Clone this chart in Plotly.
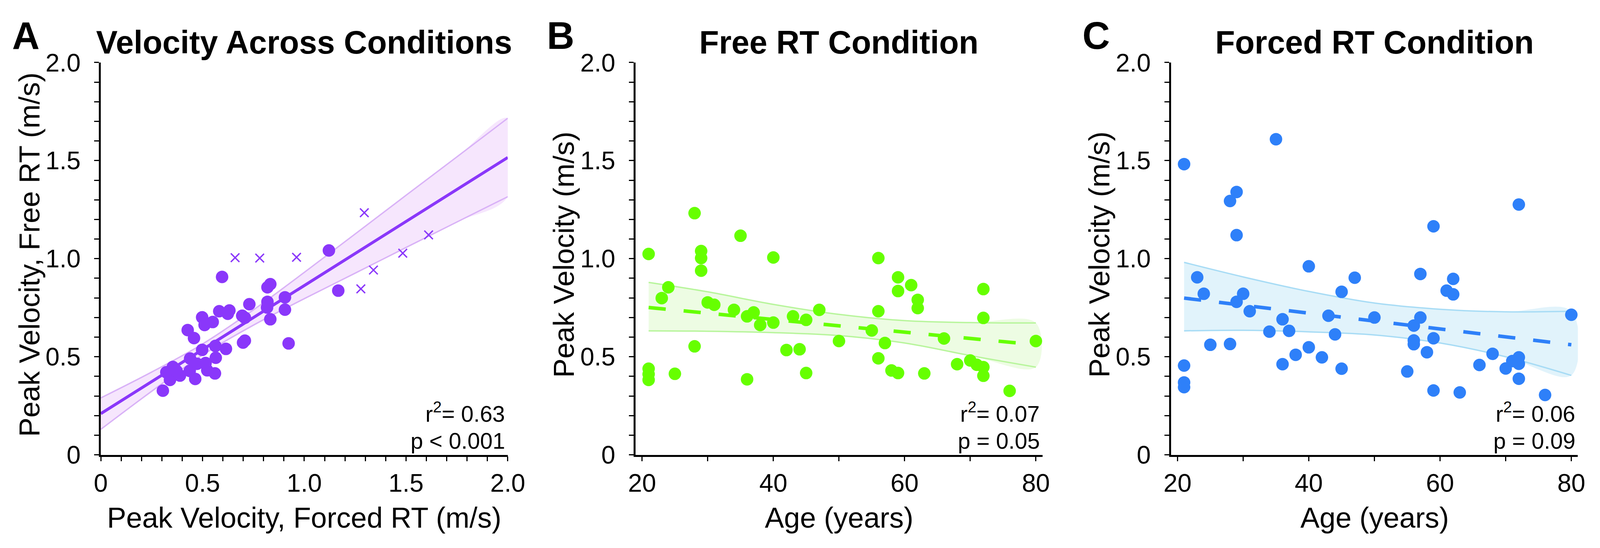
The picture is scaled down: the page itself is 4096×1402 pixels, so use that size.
import plotly.graph_objects as go

# ---------------- data ----------------
# Panel A: peak velocity, Forced RT (x) vs Free RT (y), m/s
a_forced = [0.305, 0.340, 0.322, 0.354, 0.389, 0.372, 0.439, 0.437, 0.464, 0.473,
            0.515, 0.523, 0.561, 0.565, 0.498, 0.563, 0.615, 0.427, 0.458, 0.498,
            0.510, 0.550, 0.582, 0.632, 0.624, 0.695, 0.708, 0.730, 0.708, 0.699,
            0.817, 0.819, 0.833, 0.905, 0.905, 0.819, 0.833, 0.923, 0.596, 1.121,
            1.167]
a_free = [0.327, 0.382, 0.421, 0.448, 0.404, 0.428, 0.491, 0.428, 0.387, 0.464,
          0.468, 0.431, 0.415, 0.495, 0.535, 0.555, 0.540, 0.636, 0.595, 0.701,
          0.662, 0.677, 0.732, 0.736, 0.719, 0.709, 0.699, 0.768, 0.582, 0.572,
          0.751, 0.780, 0.691, 0.803, 0.740, 0.854, 0.870, 0.568, 0.907, 1.042,
          0.837]
a_excl_forced = [0.660, 0.781, 0.962, 1.295, 1.278, 1.340, 1.484, 1.611]
a_excl_free = [1.005, 1.003, 1.007, 1.234, 0.846, 0.942, 1.028, 1.121]
a_fit_x = [0.0, 2.0]
a_fit_y = [0.210, 1.516]
a_ci_x = [0.0, 0.25, 0.5, 0.75, 1.0, 1.25, 1.5, 1.75, 2.0]
a_ci_hi = [0.290, 0.422, 0.565, 0.739, 0.930, 1.126, 1.323, 1.519, 1.716]
a_ci_lo = [0.130, 0.324, 0.509, 0.661, 0.796, 0.926, 1.057, 1.187, 1.316]

# Panel B: Free RT condition, age vs peak velocity
b_age = [21, 21, 21, 21, 23, 24, 25, 28, 28, 29, 29, 29, 30, 31, 34, 35, 36, 36,
         37, 38, 40, 40, 42, 43, 44, 45, 45, 47, 50, 55, 56, 56, 56, 57, 58, 59,
         59, 59, 61, 62, 62, 63, 66, 68, 70, 71, 72, 72, 72, 72, 76, 80]
b_vel = [1.024, 0.439, 0.411, 0.382, 0.799, 0.854, 0.413, 1.232, 0.553, 1.039,
         1.003, 0.939, 0.777, 0.765, 0.739, 1.117, 0.706, 0.385, 0.726, 0.662,
         1.006, 0.674, 0.534, 0.706, 0.538, 0.688, 0.417, 0.739, 0.580, 0.634,
         1.003, 0.732, 0.492, 0.570, 0.430, 0.905, 0.835, 0.417, 0.865, 0.790,
         0.748, 0.415, 0.593, 0.462, 0.481, 0.459, 0.845, 0.698, 0.447, 0.403,
         0.326, 0.580]
b_fit_x = [21, 80]
b_fit_y = [0.751, 0.561]
b_ci_x = [21, 30, 40, 50, 60, 70, 80]
b_ci_hi = [0.879, 0.831, 0.767, 0.716, 0.684, 0.674, 0.672]
b_ci_lo = [0.632, 0.630, 0.623, 0.608, 0.570, 0.506, 0.447]

# Panel C: Forced RT condition, age vs peak velocity
c_age = [21, 21, 21, 21, 23, 24, 25, 28, 28, 29, 29, 29, 30, 31, 34, 35, 36, 36,
         37, 38, 40, 40, 42, 43, 44, 45, 45, 47, 50, 55, 56, 56, 56, 57, 57, 58,
         59, 59, 59, 61, 62, 62, 63, 66, 68, 70, 71, 72, 72, 72, 72, 76, 80]
c_vel = [1.482, 0.455, 0.369, 0.345, 0.905, 0.821, 0.561, 1.294, 0.565, 1.340,
         1.120, 0.780, 0.821, 0.732, 0.628, 1.609, 0.691, 0.462, 0.632, 0.510,
         0.961, 0.548, 0.497, 0.709, 0.614, 0.831, 0.439, 0.903, 0.700, 0.425,
         0.659, 0.583, 0.564, 0.922, 0.700, 0.523, 1.165, 0.594, 0.328, 0.837,
         0.897, 0.818, 0.318, 0.458, 0.515, 0.440, 0.478, 1.276, 0.497, 0.464,
         0.388, 0.305, 0.714]
c_fit_x = [21, 80]
c_fit_y = [0.799, 0.561]
c_ci_x = [21, 30, 40, 50, 60, 70, 80]
c_ci_hi = [0.981, 0.907, 0.833, 0.774, 0.742, 0.729, 0.732]
c_ci_lo = [0.632, 0.635, 0.627, 0.611, 0.570, 0.500, 0.405]

# ticks
vel_major_vals = [0, 0.5, 1.0, 1.5, 2.0]
vel_major_text = ["0", "0.5", "1.0", "1.5", "2.0"]
vel_minor_vals = [i / 10 for i in range(21)]
age_major_vals = [20, 40, 60, 80]
age_major_text = ["20", "40", "60", "80"]
age_minor_vals = [20, 30, 40, 50, 60, 70, 80]

titles = ["Velocity Across Conditions", "Free RT Condition", "Forced RT Condition"]
letters = ["A", "B", "C"]
x_titles = ["Peak Velocity, Forced RT (m/s)", "Age (years)", "Age (years)"]
y_titles = ["Peak Velocity, Free RT (m/s)", "Peak Velocity (m/s)", "Peak Velocity (m/s)"]
r2_text = ["0.63", "0.07", "0.06"]
p_text = ["p < 0.001", "p = 0.05", "p = 0.09"]

# ---------------- geometry (reference pixels -> paper) ----------------
W, H = 4096, 1402
SX, SY = W / 4118, H / 1410
S = 0.994


def px(x):
    return x * SX / W


def py(y):
    return 1 - y * SY / H


panel_left = [236, 1634, 3034]
panel_right = [1300, 2698, 4098]
y_bottom, y_top = 1188, 124

purple, purple_fill, purple_ci = "#8A37FA", "#F6E6FD", "#D9B2F7"
green, green_fill, green_ci = "#66FF00", "#EDFCE3", "#B8F59C"
blue, blue_fill, blue_ci = "#2E80F9", "#E1F3FB", "#A8DCF5"

fig = go.Figure()


def band(x, hi, lo, fill, edge, xa, ya):
    fig.add_trace(go.Scatter(x=list(x) + list(x)[::-1], y=list(hi) + list(lo)[::-1],
                             fill="toself", fillcolor=fill, line=dict(width=0),
                             mode="lines", line_shape="spline", hoverinfo="skip",
                             xaxis=xa, yaxis=ya, showlegend=False))
    for yy in (hi, lo):
        fig.add_trace(go.Scatter(x=x, y=yy, mode="lines", line=dict(color=edge, width=3.5),
                                 line_shape="spline", xaxis=xa, yaxis=ya, showlegend=False))


# Panel A
band(a_ci_x, a_ci_hi, a_ci_lo, purple_fill, purple_ci, "x", "y")
fig.add_trace(go.Scatter(x=a_fit_x, y=a_fit_y, mode="lines", line=dict(color=purple, width=7.5),
                         xaxis="x", yaxis="y", showlegend=False))
fig.add_trace(go.Scatter(x=a_forced, y=a_free, mode="markers",
                         marker=dict(color=purple, size=32, line=dict(width=0)),
                         xaxis="x", yaxis="y", showlegend=False))
fig.add_trace(go.Scatter(x=a_excl_forced, y=a_excl_free, mode="markers",
                         marker=dict(symbol="x-thin", color=purple, size=22,
                                     line=dict(color=purple, width=3.5)),
                         xaxis="x", yaxis="y", showlegend=False))

# Panel B
band(b_ci_x, b_ci_hi, b_ci_lo, green_fill, green_ci, "x2", "y2")
fig.add_trace(go.Scatter(x=b_fit_x, y=b_fit_y, mode="lines",
                         line=dict(color=green, width=9, dash="44px,46px"),
                         xaxis="x2", yaxis="y2", showlegend=False))
fig.add_trace(go.Scatter(x=b_age, y=b_vel, mode="markers",
                         marker=dict(color=green, size=32, line=dict(width=0)),
                         xaxis="x2", yaxis="y2", showlegend=False))

# Panel C
band(c_ci_x, c_ci_hi, c_ci_lo, blue_fill, blue_ci, "x3", "y3")
fig.add_trace(go.Scatter(x=c_fit_x, y=c_fit_y, mode="lines",
                         line=dict(color=blue, width=9, dash="44px,46px"),
                         xaxis="x3", yaxis="y3", showlegend=False))
fig.add_trace(go.Scatter(x=c_age, y=c_vel, mode="markers",
                         marker=dict(color=blue, size=32, line=dict(width=0)),
                         xaxis="x3", yaxis="y3", showlegend=False))

axis_common = dict(showline=True, linecolor="black", linewidth=4.5, ticks="outside",
                   ticklen=12, tickwidth=3, tickcolor="black", showgrid=False,
                   zeroline=False, tickfont=dict(size=65 * S, color="black"),
                   fixedrange=True)
minor_common = dict(ticks="outside", ticklen=12, tickwidth=3, tickcolor="black", showgrid=False)

layout_axes = {}
for i in range(3):
    sx = "" if i == 0 else str(i + 1)
    xd = [px(panel_left[i]), px(panel_right[i])]
    yd = [py(y_bottom), py(y_top)]
    if i == 0:
        xa = dict(range=[0, 2], tickvals=vel_major_vals, ticktext=vel_major_text,
                  minor=dict(tickvals=vel_minor_vals, **minor_common))
    else:
        xa = dict(range=[19, 81], tickvals=age_major_vals, ticktext=age_major_text,
                  minor=dict(tickvals=age_minor_vals, **minor_common))
    xa.update(axis_common, domain=xd, anchor="y" + sx, ticklabelstandoff=0)
    ya = dict(range=[0, 2], tickvals=vel_major_vals, ticktext=vel_major_text,
              minor=dict(tickvals=vel_minor_vals, **minor_common))
    ya.update(axis_common, domain=yd, anchor="x" + sx, ticklabelstandoff=22)
    layout_axes["xaxis" + sx] = xa
    layout_axes["yaxis" + sx] = ya

ann = []
for i in range(3):
    L, R = panel_left[i], panel_right[i]
    cx = (L + R) / 2
    ann.append(dict(text=f"<b>{titles[i]}</b>", x=px(cx), y=py(69), xref="paper", yref="paper",
                    xanchor="center", yanchor="middle", showarrow=False,
                    font=dict(size=83 * S, color="black")))
    ann.append(dict(text=f"<b>{letters[i]}</b>", x=px(L - 234), y=py(51), xref="paper", yref="paper",
                    xanchor="left", yanchor="middle", showarrow=False,
                    font=dict(size=98 * S, color="black")))
    ann.append(dict(text=x_titles[i], x=px(cx), y=py(1359), xref="paper", yref="paper",
                    xanchor="center", yanchor="middle", showarrow=False,
                    font=dict(size=74 * S, color="black")))
    ann.append(dict(text=y_titles[i], x=px(L - 187), y=py(645), xref="paper", yref="paper",
                    xanchor="center", yanchor="middle", textangle=-90, showarrow=False,
                    font=dict(size=74 * S, color="black")))
    ann.append(dict(text=f"r<sup>2</sup>= {r2_text[i]}", x=px(R - 5), y=py(1072), xref="paper",
                    yref="paper", xanchor="right", yanchor="middle", showarrow=False,
                    font=dict(size=58 * S, color="black")))
    ann.append(dict(text=p_text[i], x=px(R - 5), y=py(1150), xref="paper",
                    yref="paper", xanchor="right", yanchor="middle", showarrow=False,
                    font=dict(size=58 * S, color="black")))

fig.update_layout(width=W, height=H, margin=dict(l=0, r=0, t=0, b=0),
                  paper_bgcolor="white", plot_bgcolor="white",
                  font=dict(family="Liberation Sans, Arial, Helvetica, sans-serif", color="black"),
                  annotations=ann, **layout_axes)

fig.write_html("out.html", config={"displayModeBar": False})
